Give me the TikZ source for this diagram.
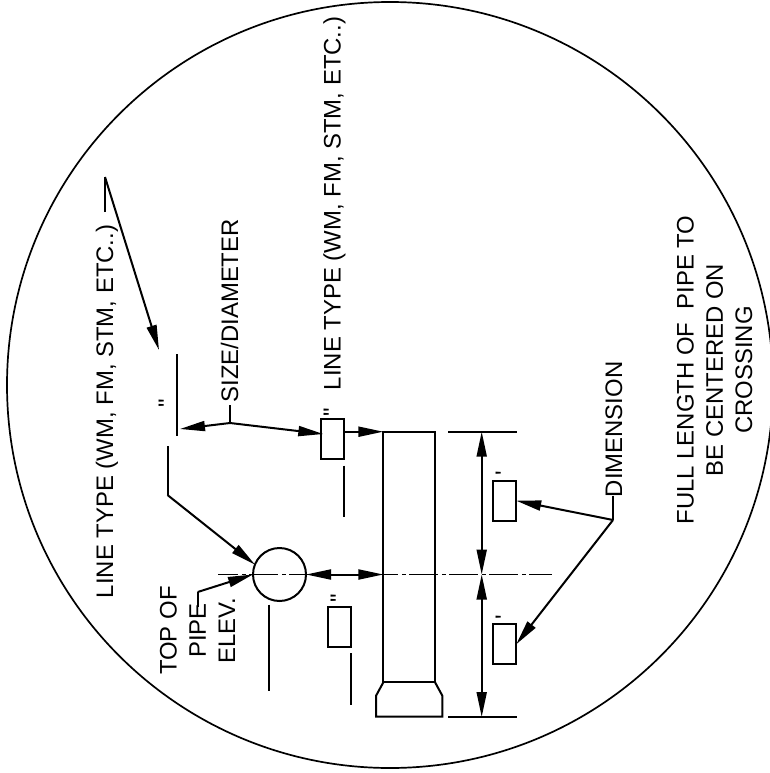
\documentclass[tikz,border=0pt]{standalone}
\usepackage{fontspec}
\setmainfont{Liberation Sans}
\newfontfamily\inchfont{Liberation Sans}
\usetikzlibrary{arrows.meta,calc}
\begin{document}
\begin{tikzpicture}[
  x=1pt,y=-1pt,
  line width=2pt,
  >={Triangle[length=25pt,width=10pt]},
  lbl/.style={rotate=90,anchor=base west,inner sep=0pt,outer sep=0pt,
    font=\fontsize{23.9}{29.2}\selectfont},
  blk/.style={rotate=90,align=center,inner sep=0pt,outer sep=0pt,
    font=\fontsize{23.9}{29.2}\selectfont},
  tag/.style={rectangle,draw,outer sep=0pt,minimum width=23pt,minimum height=40pt},
  centreline/.style={line width=1pt,dash pattern=on 29pt off 3.5pt on 4pt off 3.5pt,dash phase=8.7pt}
  ]
  \useasboundingbox (0,0) rectangle (769,773);
  \node [circle,draw,line width=1.7pt,inner sep=0pt,outer sep=0pt,minimum size=766pt] (DET) at (390,385) {};

  \node [circle,draw,inner sep=0pt,outer sep=0pt,minimum size=53pt] (PIPE) at (279.5,574.5) {};
  \node [rectangle,draw,inner sep=0pt,outer sep=0pt,minimum width=51.7pt,minimum height=250.6pt] (TUBE) at (409.2,557) {};
  \node [tag] (TAGA) at (332.3,439) {};
  \node [tag] (TAGB) at (339.2,626.7) {};
  \node [tag] (TAGC) at (504.7,500.7) {};
  \node [tag] (TAGD) at (504.7,644.3) {};

  \node [lbl] (TYPEA) at (113,598) {LINE TYPE (WM, FM, STM, ETC..)};
  \node [lbl] (TYPEB) at (340.7,390) {LINE TYPE (WM, FM, STM, ETC..)};
  \node [lbl] (SIZE) at (238,402.5) {SIZE/DIAMETER};
  \node [lbl] (DIM) at (622,497) {DIMENSION};
  \node [blk] (ELEV) at (197.5,630.5) {TOP OF\\PIPE\\ELEV.};
  \node [blk] (FULL) at (714.6,370) {FULL LENGTH OF\ \ PIPE TO\\BE CENTERED ON\\CROSSING};

  \node [lbl] (INA) at (175,407.3) {\inchfont "};
  \node [lbl] (INB) at (340,416) {\inchfont "};
  \node [lbl] (INC) at (347,602) {\inchfont "};
  \node [lbl] (IND) at (512,475.3) {\inchfont '};
  \node [lbl] (INE) at (512,619) {\inchfont '};

  % free ends of the leaders
  \coordinate (TYPEJ) at (105,177);
  \coordinate (TYPEE) at (105,212);
  \coordinate (TYPET) at (159,350);
  \coordinate (BENDA) at (167.5,495);
  \coordinate (BENDB) at (167.5,446);
  \coordinate (ELEVJ) at (197.7,592);
  \coordinate (ELEVE) at (197.7,606.7);
  \coordinate (SIZEJ) at (230,423);
  \coordinate (SIZEE) at (230,405);
  \coordinate (SIZET) at (180,429);
  \coordinate (DIMJ) at (613,520);
  \coordinate (DIME) at (613,495.7);

  % pipe end
  \draw (TUBE.south west) -- ++(-7.3,13.4) -- ++(0,21) -| ($(TUBE.south east)+(7.3,13.4)$) -- (TUBE.south east);

  % centre line
  \coordinate (CLA) at (218,574.5);
  \coordinate (CLB) at (552,574.5);
  \draw[centreline] (CLA) -- (CLB);

  % short marks
  \coordinate (MARKA) at (176.5,354);
  \coordinate (MARKB) at (176.5,436);
  \draw (MARKA) -- (MARKB);
  \draw (BENDA) -- (BENDB);
  \draw ([yshift=-6.5pt]TAGA.south east) -- ++(0,51.5);
  \draw ([yshift=-6.5pt]TAGB.south east) -- ++(0,52);
  \draw ($(PIPE.south)+(-10.2,3.5)$) -- ++(0,86);

  % leaders
  \draw (TYPEE) -- (TYPEJ);
  \draw[->] (TYPEJ) -- (TYPET);
  \draw[->] (BENDA) -- (PIPE.158);
  \draw (SIZEE) -- (SIZEJ);
  \draw[->] (SIZEJ) -- (SIZET);
  \draw[->] (SIZEJ) -- ([xshift=2.5pt,yshift=5pt]TAGA.west);
  \draw[->] (TAGA.east|-TUBE.north west) -- (TUBE.north west);
  \draw[<->] (PIPE.east) -- (TUBE.west|-PIPE);
  \draw (ELEVE) -- (ELEVJ);
  \draw[->] (ELEVJ) -- (PIPE.west);
  \draw (DIME) -- (DIMJ);
  \draw[->] (DIMJ) -- (TAGC.east);
  \draw[->] (DIMJ) -- (TAGD.east);

  % dimension
  \coordinate (EXTA) at (448,431.7);
  \coordinate (EXTB) at (448,717);
  \draw (EXTA) -- (516.7,431.7);
  \draw (EXTB) -- (516.7,717);
  \coordinate (DIMA) at (481.7,431.7);
  \coordinate (DIMM) at (481.7,574.5);
  \coordinate (DIMB) at (481.7,717);
  \draw[<->] (DIMA) -- (DIMM);
  \draw[<->] (DIMM) -- (DIMB);
\end{tikzpicture}
\end{document}
